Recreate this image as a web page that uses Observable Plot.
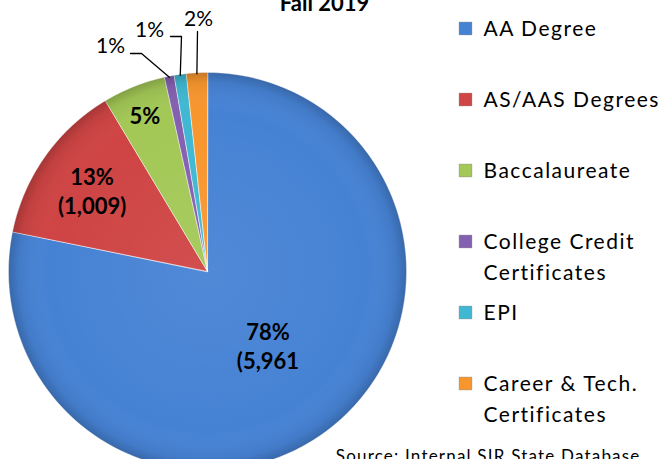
<!DOCTYPE html>
<html>
<head>
<meta charset="utf-8">
<script src="https://cdn.jsdelivr.net/npm/d3@7"></script>
<script src="https://cdn.jsdelivr.net/npm/@observablehq/plot@0.6"></script>
<style>
  html, body { margin: 0; padding: 0; background: #fff; }
  #chart { width: 662px; height: 459px; overflow: hidden; }
</style>
</head>
<body>
<div id="chart"></div>
<script>
// ---- Data ----
const categories = ["AA Degree", "AS/AAS Degrees", "Baccalaureate", "College Credit Certificates", "EPI", "Career & Tech. Certificates"];
const legendLabels = ["AA Degree", "AS/AAS Degrees", "Baccalaureate", "College Credit\nCertificates", "EPI", "Career & Tech.\nCertificates"];
const counts = [5961, 1009, 390, 60, 75, 130];
const sliceLabels = ["78%\n(5,961", "13%\n(1,009)", "5%", "1%", "1%", "2%"];
const colors = ["#4682d4", "#cf4444", "#a3c856", "#8460b0", "#40b8d2", "#f8962e"];
const titleText = "Fall 2019";
const sourceText = "Source: Internal SIR State Database";

// ---- Layout (styling only) ----
const W = 662, H = 459;
const cx = 207, cy = 271, R = 199;
const FONT = "Lato, 'Open Sans', sans-serif";
const insideRadius = [0.48, 0.71, 0.85];
const outerLayout = [
  null, null, null,
  {tx: 110, ty: 46, elbow: [[141, 53], [130, 53]]},
  {tx: 149, ty: 30, elbow: [[181, 36], [170, 36]]},
  {tx: 198, ty: 19, elbow: [[197, 31]]}
];

// ---- Derived geometry ----
const total = d3.sum(counts);
let acc = 0;
const slices = categories.map((c, i) => {
  const a0 = acc / total * 2 * Math.PI;
  acc += counts[i];
  const a1 = acc / total * 2 * Math.PI;
  return {category: c, i, a0, a1, mid: (a0 + a1) / 2};
});
const polar = (a, r) => [cx + r * Math.sin(a), cy - r * Math.cos(a)];

const polyPts = [];
for (const s of slices) {
  polyPts.push({category: s.category, x: cx, y: cy});
  const n = Math.max(2, Math.ceil((s.a1 - s.a0) / (Math.PI / 180)));
  for (let k = 0; k <= n; k++) {
    const [x, y] = polar(s.a0 + (s.a1 - s.a0) * k / n, R);
    polyPts.push({category: s.category, x, y});
  }
}

const insideLabels = slices.filter(s => s.i < 3).map(s => {
  const [x, y] = polar(s.mid, R * insideRadius[s.i]);
  return {x, y, text: sliceLabels[s.i]};
});

const outerLabels = [];
const leaderPts = [];
for (const s of slices) {
  const L = outerLayout[s.i];
  if (!L) continue;
  outerLabels.push({x: L.tx, y: L.ty, text: sliceLabels[s.i]});
  const [x0, y0] = polar(s.mid, R - 1);
  leaderPts.push({k: s.i, x: x0, y: y0});
  for (const [x, y] of L.elbow) leaderPts.push({k: s.i, x, y});
}

const legendSwatches = categories.map((c, i) => ({category: c, x: 465, y: 28 + i * 71}));
const legendText = [];
legendLabels.forEach((lab, i) => {
  lab.split("\n").forEach((line, j) => legendText.push({x: 483, y: 29 + i * 71 + j * 31, text: line}));
});

const chart = Plot.plot({
  width: W, height: H,
  margin: 0,
  x: {domain: [0, W], range: [0, W], axis: null},
  y: {domain: [0, H], range: [0, H], axis: null},
  color: {domain: categories, range: colors},
  style: {fontFamily: FONT, background: "white", overflow: "hidden"},
  marks: [
    Plot.line(polyPts, {x: "x", y: "y", z: "category", fill: "category", stroke: "white", strokeOpacity: 0.55, strokeWidth: 1, curve: "linear-closed"}),
    Plot.dot([0], {x: () => cx, y: () => cy, r: R, fill: "url(#rim)", stroke: null}),
    Plot.line(leaderPts, {x: "x", y: "y", z: "k", stroke: "black", strokeWidth: 1.3}),
    Plot.text(insideLabels, {x: "x", y: "y", text: "text", fontSize: 22, fontWeight: "bold", fill: "black", lineHeight: 1.32, textAnchor: "middle"}),
    Plot.text(outerLabels, {x: "x", y: "y", text: "text", fontSize: 21, fill: "black", textAnchor: "middle"}),
    Plot.dot(legendSwatches, {x: "x", y: "y", symbol: "square", r: 7.2, fill: "category", stroke: "#555", strokeOpacity: 0.35, strokeWidth: 0.8}),
    Plot.text(legendText, {x: "x", y: "y", text: "text", fontSize: 21, fill: "black", textAnchor: "start", lineAnchor: "middle"}),
    Plot.text([titleText], {x: () => 324, y: () => 10, text: d => d, fontSize: 22, fontWeight: "bold", lineAnchor: "bottom", fill: "black"}),
    Plot.text([sourceText], {x: () => 640, y: () => 461, text: d => d, fontSize: 17, textAnchor: "end", lineAnchor: "bottom", fill: "black"})
  ]
});

// letter spacing to mimic the reference's wide text (legend, source)
const textGroups = d3.select(chart).selectAll("g[aria-label='text']").nodes();
d3.select(textGroups[2]).attr("letter-spacing", "1.5px");
d3.select(textGroups[4]).attr("letter-spacing", "1.2px");

// gradient definitions for the bevelled pie rim
const defs = d3.select(chart).insert("defs", ":first-child");
const g = defs.append("radialGradient").attr("id", "rim").attr("cx", "50%").attr("cy", "50%").attr("r", "50%");
g.append("stop").attr("offset", "0%").attr("stop-color", "#fff").attr("stop-opacity", 0.06);
g.append("stop").attr("offset", "80%").attr("stop-color", "#fff").attr("stop-opacity", 0);
g.append("stop").attr("offset", "95%").attr("stop-color", "#000").attr("stop-opacity", 0.06);
g.append("stop").attr("offset", "100%").attr("stop-color", "#000").attr("stop-opacity", 0.2);

document.getElementById("chart").appendChild(chart);
</script>
</body>
</html>
